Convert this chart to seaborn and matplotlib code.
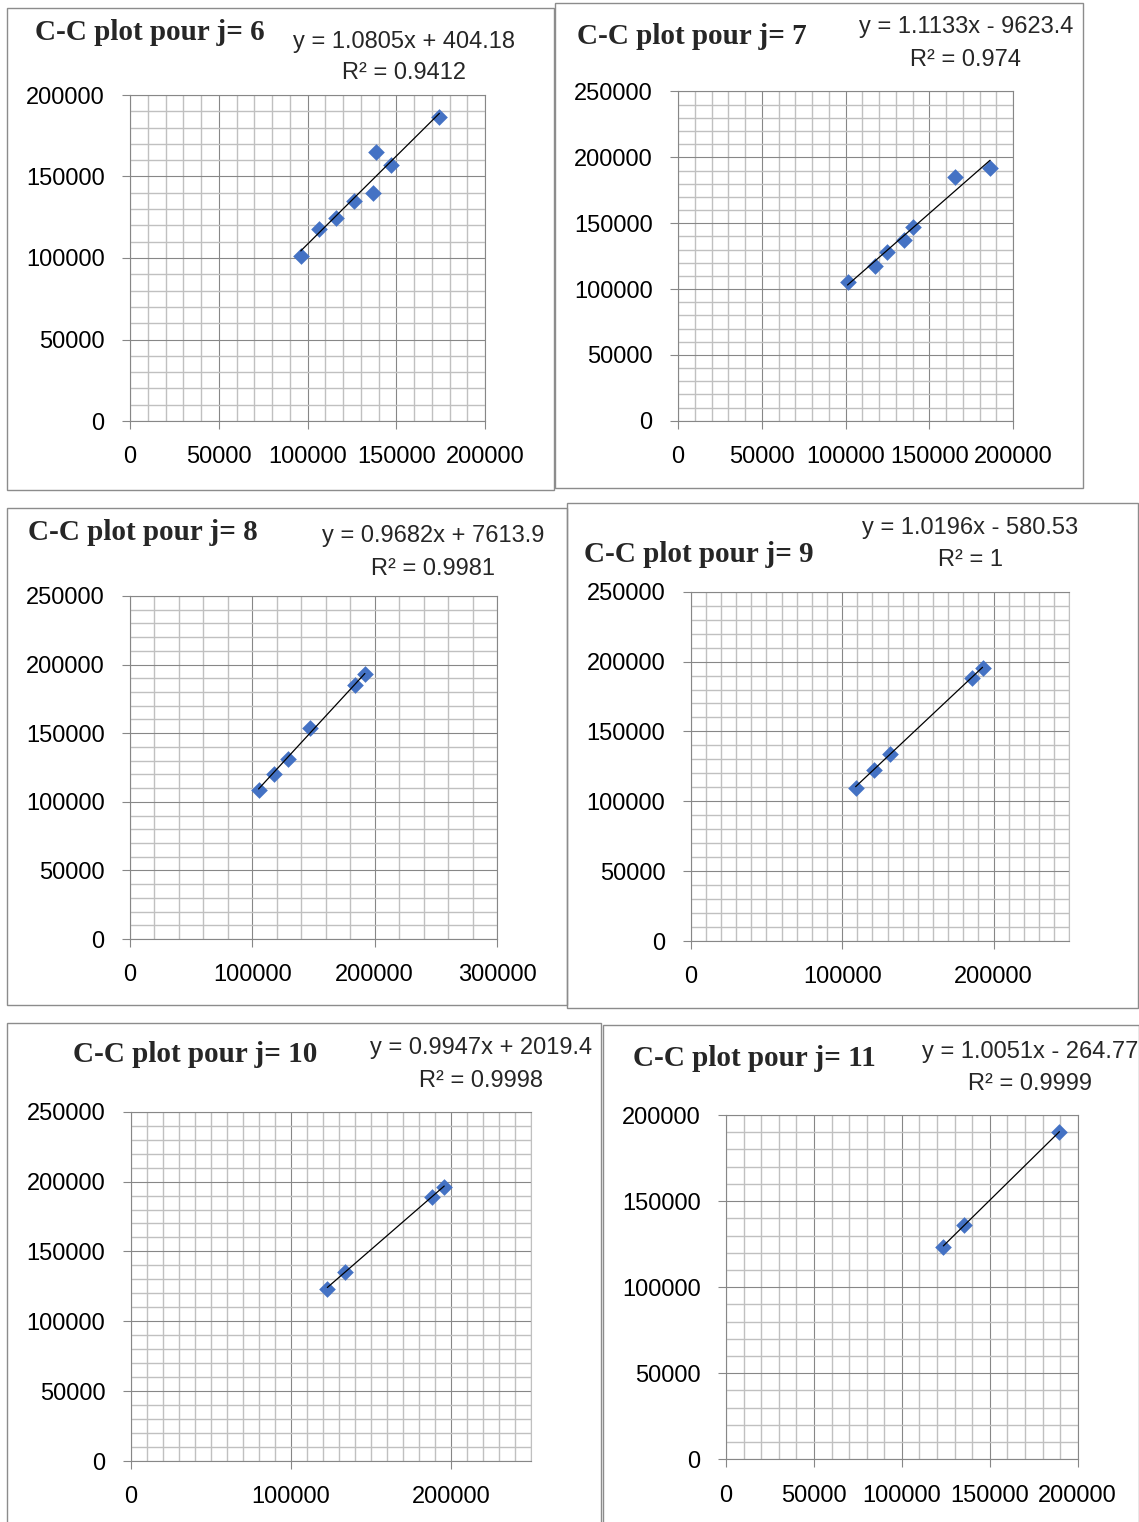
import numpy as np
import pandas as pd
import matplotlib
matplotlib.use("Agg")
import matplotlib.pyplot as plt
from matplotlib.patches import Rectangle
from matplotlib.ticker import MultipleLocator
import seaborn as sns

sns.set_theme(style="white")
plt.rcParams['font.family'] = ['Liberation Sans', 'DejaVu Sans']

# ---------------- data ----------------
j_values = [6, 7, 8, 9, 10, 11]

x_j6 = [96200, 106300, 115900, 126000, 137100, 138600, 147200, 174300]
y_j6 = [101200, 117600, 124700, 135200, 140100, 165200, 157300, 186300]

x_j7 = [101200, 117900, 124700, 135100, 140000, 165300, 186300]
y_j7 = [105100, 117800, 127900, 137300, 147400, 184700, 192000]

x_j8 = [105100, 117900, 128800, 147000, 184300, 192000]
y_j8 = [108500, 120600, 131500, 153900, 185200, 192900]

x_j9 = [108900, 121000, 131600, 185500, 192700]
y_j9 = [109800, 122600, 134100, 188300, 195500]

x_j10 = [122800, 134000, 188300, 195800]
y_j10 = [123300, 135500, 189300, 196400]

x_j11 = [123600, 135600, 189600]
y_j11 = [123500, 136100, 189900]

slopes = [1.0805, 1.1133, 0.9682, 1.0196, 0.9947, 1.0051]
intercepts = [404.18, -9623.4, 7613.9, -580.53, 2019.4, -264.77]
equation_labels = ["y = 1.0805x + 404.18", "y = 1.1133x - 9623.4",
                   "y = 0.9682x + 7613.9", "y = 1.0196x - 580.53",
                   "y = 0.9947x + 2019.4", "y = 1.0051x - 264.77"]
r2_labels = ["R² = 0.9412", "R² = 0.974", "R² = 0.9981",
             "R² = 1", "R² = 0.9998", "R² = 0.9999"]

x_max = [200000, 200000, 300000, 250000, 250000, 200000]
y_max = [200000, 250000, 250000, 250000, 250000, 200000]
x_major = [50000, 50000, 100000, 100000, 100000, 50000]
x_minor = [10000, 10000, 20000, 10000, 10000, 10000]
y_major = [50000] * 6
y_minor = [10000] * 6

xs = [x_j6, x_j7, x_j8, x_j9, x_j10, x_j11]
ys = [y_j6, y_j7, y_j8, y_j9, y_j10, y_j11]

# ---------------- layout (pixels, top-left origin) ----------------
W, H = 1139, 1522
axes_px = [(130, 95, 485, 421), (678, 91.5, 1013, 420.7),
           (130, 596, 497, 939), (690.7, 591.7, 1069.3, 941),
           (130.7, 1111.7, 531, 1461), (726, 1115, 1077.7, 1459.3)]
box_px = [(7, 8, 554, 490), (555, 3, 1083, 488),
          (7, 508, 567, 1005), (567, 503, 1138, 1008),
          (7, 1023, 601, 1530), (603, 1025, 1139, 1530)]
title_pos = [(35, 33), (577, 37), (28, 533), (584, 555), (73, 1054), (633, 1058)]
eq_pos = [(404, 42), (966, 27), (433, 536), (970, 528), (481, 1048), (1030, 1052)]
r2_pos = [(404, 73), (966, 60), (433, 569), (970, 560), (481, 1081), (1030, 1084)]

MAJ = '#878787'
MIN = '#c0c0c0'
BLUE = '#4472C4'


def fx(px):
    return px / W


def fy(py):
    return 1 - py / H


fig = plt.figure(figsize=(W / 100, H / 100), dpi=100)
fig.patch.set_facecolor('white')

for i in range(6):
    bx0, by0, bx1, by1 = box_px[i]
    fig.add_artist(Rectangle((fx(bx0), fy(by1)), fx(bx1 - bx0), (by1 - by0) / H,
                             transform=fig.transFigure, fill=False,
                             edgecolor='#8c8c8c', lw=1.0, zorder=0))

for i in range(6):
    l, t, r, b = axes_px[i]
    ax = fig.add_axes([fx(l), fy(b), (r - l) / W, (b - t) / H])
    ax.set_facecolor('white')

    df = pd.DataFrame({'x': xs[i], 'y': ys[i]})
    xmin_d, xmax_d = min(xs[i]), max(xs[i])
    line_df = pd.DataFrame({'x': [xmin_d, xmax_d],
                            'y': [slopes[i] * xmin_d + intercepts[i],
                                  slopes[i] * xmax_d + intercepts[i]]})

    sns.scatterplot(data=df, x='x', y='y', ax=ax, marker='D', s=72,
                    color=BLUE, edgecolor=BLUE, linewidth=0, zorder=3)
    sns.lineplot(data=line_df, x='x', y='y', ax=ax, color='black',
                 linewidth=0.9, zorder=4)

    ax.set_xlim(0, x_max[i])
    ax.set_ylim(0, y_max[i])
    ax.xaxis.set_major_locator(MultipleLocator(x_major[i]))
    ax.xaxis.set_minor_locator(MultipleLocator(x_minor[i]))
    ax.yaxis.set_major_locator(MultipleLocator(y_major[i]))
    ax.yaxis.set_minor_locator(MultipleLocator(y_minor[i]))
    ax.xaxis.set_major_formatter(matplotlib.ticker.FuncFormatter(lambda v, p: f"{int(v)}"))
    ax.yaxis.set_major_formatter(matplotlib.ticker.FuncFormatter(lambda v, p: f"{int(v)}"))

    ax.grid(which='major', color=MAJ, linewidth=0.8, zorder=1)
    ax.grid(which='minor', color=MIN, linewidth=1.0, zorder=0.5)
    ax.set_axisbelow(True)

    ax.tick_params(which='major', bottom=True, left=True, direction='out',
                   length=5.8, width=0.8, color=MAJ, pad=12.5,
                   labelsize=17, labelcolor='black')
    ax.tick_params(which='minor', bottom=False, left=False, length=0)

    for side in ['left', 'bottom', 'top']:
        ax.spines[side].set_visible(True)
        ax.spines[side].set_color(MAJ)
        ax.spines[side].set_linewidth(0.8)
    ax.spines['right'].set_visible(True)
    ax.spines['right'].set_color(MAJ if x_max[i] % x_major[i] == 0 else MIN)
    ax.spines['right'].set_linewidth(0.8)

    ax.set_xlabel('')
    ax.set_ylabel('')
    if ax.get_legend() is not None:
        ax.get_legend().remove()

    tx, ty = title_pos[i]
    fig.text(fx(tx), fy(ty), f"C-C plot pour j= {j_values[i]}", ha='left', va='center',
             family=['Liberation Serif', 'DejaVu Serif'], fontweight='bold', fontsize=21)
    ex, ey = eq_pos[i]
    fig.text(fx(ex), fy(ey), equation_labels[i], ha='center', va='center', fontsize=17)
    rx, ry = r2_pos[i]
    fig.text(fx(rx), fy(ry), r2_labels[i], ha='center', va='center', fontsize=17)

fig.savefig('out.png', dpi=100, facecolor='white')
